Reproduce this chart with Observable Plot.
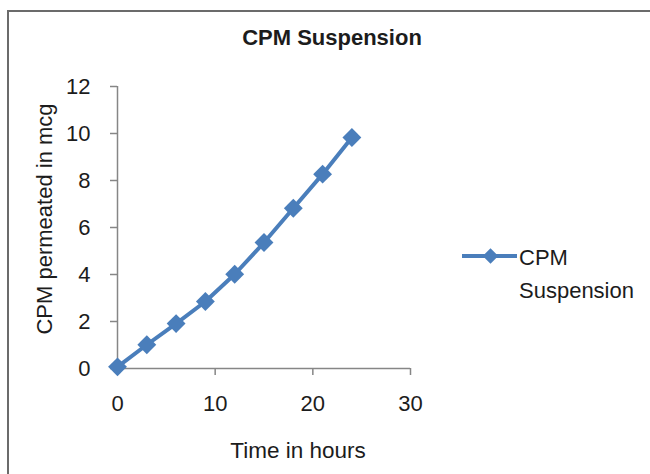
<!DOCTYPE html>
<html>
<head>
<meta charset="utf-8">
<script src="https://cdn.jsdelivr.net/npm/d3@7"></script>
<script src="https://cdn.jsdelivr.net/npm/@observablehq/plot@0.6"></script>
<style>
  body { margin: 0; background: #ffffff; }
  #wrap { position: relative; width: 650px; height: 474px; overflow: hidden; background: #ffffff; }
  #wrap svg { position: absolute; left: 0; top: 0; }
</style>
</head>
<body>
<div id="wrap"></div>
<script>
// ---- data ----
const chartTitle = "CPM Suspension";
const seriesName = "CPM Suspension";
const xLabel = "Time in hours";
const yLabel = "CPM permeated in mcg";
const hours = [0, 3, 6, 9, 12, 15, 18, 21, 24];
const permeated = [0.07, 1.01, 1.91, 2.85, 4.01, 5.36, 6.82, 8.27, 9.83];
const xTicks = [0, 10, 20, 30];
const yTicks = [0, 2, 4, 6, 8, 10, 12];

const data = hours.map((h, i) => ({hours: h, value: permeated[i]}));

const blue = "#4a7ebb";
const axisGray = "#868686";
const textColor = "#1c1c1c";
const font = "'Liberation Sans', Arial, sans-serif";

const chart = Plot.plot({
  width: 650,
  height: 474,
  marginLeft: 117,
  marginRight: 240,
  marginTop: 86,
  marginBottom: 106,
  x: {domain: [0, 30]},
  y: {domain: [0, 12]},
  style: {fontFamily: font, fontSize: "22px", color: textColor, background: "transparent", overflow: "visible"},
  marks: [
    Plot.axisX({ticks: xTicks, tickSize: 7, tickPadding: 20, stroke: axisGray, strokeWidth: 1.5, label: null, fontSize: 22}),
    Plot.axisY({ticks: yTicks, tickSize: 7, tickPadding: 20, stroke: axisGray, strokeWidth: 1.5, label: null, fontSize: 22}),
    Plot.ruleX([0], {stroke: axisGray, strokeWidth: 1.5}),
    Plot.ruleY([0], {stroke: axisGray, strokeWidth: 1.5}),
    Plot.line(data, {x: "hours", y: "value", stroke: blue, strokeWidth: 4}),
    Plot.dot(data, {x: "hours", y: "value", symbol: "diamond2", r: 8.5, fill: blue})
  ]
});

const wrap = document.getElementById("wrap");
wrap.appendChild(chart);

// overlay: border, title, axis titles, legend
const ov = d3.create("svg").attr("width", 650).attr("height", 474)
  .style("font-family", font).style("pointer-events", "none");
ov.append("rect").attr("x", 8).attr("y", 11).attr("width", 700).attr("height", 520)
  .attr("fill", "none").attr("stroke", "#6b6b6b").attr("stroke-width", 2);
ov.append("text").attr("x", 332).attr("y", 45).attr("text-anchor", "middle")
  .attr("font-size", 22).attr("font-weight", "bold").attr("fill", textColor).text(chartTitle);
ov.append("text").attr("x", 298).attr("y", 458).attr("text-anchor", "middle")
  .attr("font-size", 22.5).attr("fill", textColor).text(xLabel);
ov.append("text").attr("transform", "translate(52,219) rotate(-90)").attr("text-anchor", "middle")
  .attr("font-size", 22).attr("fill", textColor).text(yLabel);
// legend
const lg = ov.append("g");
lg.append("line").attr("x1", 462).attr("x2", 517).attr("y1", 256).attr("y2", 256)
  .attr("stroke", blue).attr("stroke-width", 4);
lg.append("path").attr("d", d3.symbol(d3.symbolDiamond2, Math.PI * 7 * 7)()).attr("transform", "translate(490.5,256)")
  .attr("fill", blue);
const parts = seriesName.split(" ");
lg.append("text").attr("x", 519).attr("y", 265).attr("font-size", 22).attr("fill", textColor).text(parts[0]);
lg.append("text").attr("x", 519).attr("y", 298).attr("font-size", 22).attr("fill", textColor).text(parts.slice(1).join(" "));
wrap.appendChild(ov.node());
</script>
</body>
</html>
